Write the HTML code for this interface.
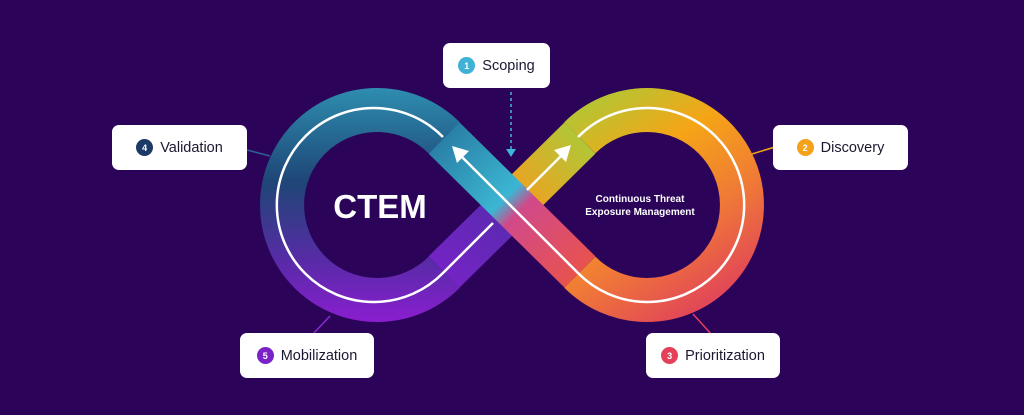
<!DOCTYPE html>
<html><head><meta charset="utf-8"><style>
html,body{margin:0;padding:0;background:#2b0459;}
body{width:1024px;height:415px;overflow:hidden;position:relative;font-family:"Liberation Sans",sans-serif;}
.box{position:absolute;background:#fff;border-radius:7px;height:45px;display:flex;align-items:center;justify-content:center;font-size:14.5px;color:#1c1830;}
.n{width:17px;height:17px;border-radius:50%;color:#fff;font-size:9px;font-weight:bold;display:inline-flex;align-items:center;justify-content:center;margin-right:7px;}
</style></head><body>
<svg width="1024" height="415" style="position:absolute;left:0;top:0">
<defs>
<linearGradient id="gl" x1="0" y1="88" x2="0" y2="322" gradientUnits="userSpaceOnUse">
<stop offset="0" stop-color="#2e8db0"/><stop offset="0.4" stop-color="#1e4676"/><stop offset="0.75" stop-color="#5a2aa8"/><stop offset="1" stop-color="#8a1ed0"/></linearGradient>
<linearGradient id="gr" x1="560" y1="100" x2="700" y2="322" gradientUnits="userSpaceOnUse">
<stop offset="0" stop-color="#a6cc3a"/><stop offset="0.35" stop-color="#f5a516"/><stop offset="0.65" stop-color="#f07a36"/><stop offset="1" stop-color="#e0405c"/></linearGradient>
<linearGradient id="gd" x1="444" y1="138" x2="580" y2="272" gradientUnits="userSpaceOnUse">
<stop offset="0" stop-color="#2a80a6"/><stop offset="0.45" stop-color="#3bb6d2"/><stop offset="0.55" stop-color="#d04a8a"/><stop offset="1" stop-color="#e8524e"/></linearGradient>
<linearGradient id="ga" x1="444" y1="272" x2="580" y2="138" gradientUnits="userSpaceOnUse">
<stop offset="0" stop-color="#7424c4"/><stop offset="0.45" stop-color="#5a2ab0"/><stop offset="0.55" stop-color="#f0a020"/><stop offset="1" stop-color="#b2c636"/></linearGradient>
</defs>
<line x1="247" y1="150" x2="270" y2="156" stroke="#2d5f95" stroke-width="1.5"/>
<line x1="752" y1="154" x2="775" y2="147" stroke="#f5a516" stroke-width="1.5"/>
<line x1="312" y1="335" x2="330" y2="316" stroke="#8a2ad0" stroke-width="1.5"/>
<line x1="712" y1="335" x2="693" y2="314" stroke="#e0405c" stroke-width="1.5"/>
<path d="M444.2 137.8 A95 95 0 1 0 444.2 272.2" fill="none" stroke="url(#gl)" stroke-width="44"/>
<path d="M579.8 137.8 A95 95 0 1 1 579.8 272.2" fill="none" stroke="url(#gr)" stroke-width="44"/>
<line x1="444" y1="272" x2="580" y2="138" stroke="url(#ga)" stroke-width="44"/>
<line x1="444" y1="138" x2="580" y2="272" stroke="url(#gd)" stroke-width="44"/>
<g fill="none" stroke="#fff" stroke-width="2.5">
<path d="M443 137 A97 97 0 1 0 443 273 L493 223"/>
<path d="M578 137 A97 97 0 1 1 578 273 L460 155"/>
<line x1="527" y1="190" x2="563" y2="154"/>
</g>
<polygon points="452,146 469,151 457,163" fill="#fff"/>
<polygon points="571,145 566,162 554,150" fill="#fff"/>
<line x1="511" y1="92" x2="511" y2="150" stroke="#3cb6dc" stroke-width="1.5" stroke-dasharray="3,3"/>
<polygon points="506,149 516,149 511,157" fill="#3cb6dc"/>
<text x="380" y="218" fill="#fff" font-family="Liberation Sans" font-weight="bold" font-size="33" text-anchor="middle">CTEM</text>
<text x="640" y="202" fill="#fff" font-family="Liberation Sans" font-weight="bold" font-size="10" text-anchor="middle">Continuous Threat</text>
<text x="640" y="215" fill="#fff" font-family="Liberation Sans" font-weight="bold" font-size="10" text-anchor="middle">Exposure Management</text>
</svg>
<div class="box" style="left:443px;top:43px;width:107px"><span class="n" style="background:#3fb3d6">1</span>Scoping</div>
<div class="box" style="left:112px;top:125px;width:135px"><span class="n" style="background:#1b3a66">4</span>Validation</div>
<div class="box" style="left:773px;top:125px;width:135px"><span class="n" style="background:#f4a11c">2</span>Discovery</div>
<div class="box" style="left:240px;top:333px;width:134px"><span class="n" style="background:#7a22c8">5</span>Mobilization</div>
<div class="box" style="left:646px;top:333px;width:134px"><span class="n" style="background:#e4405a">3</span>Prioritization</div>
</body></html>
